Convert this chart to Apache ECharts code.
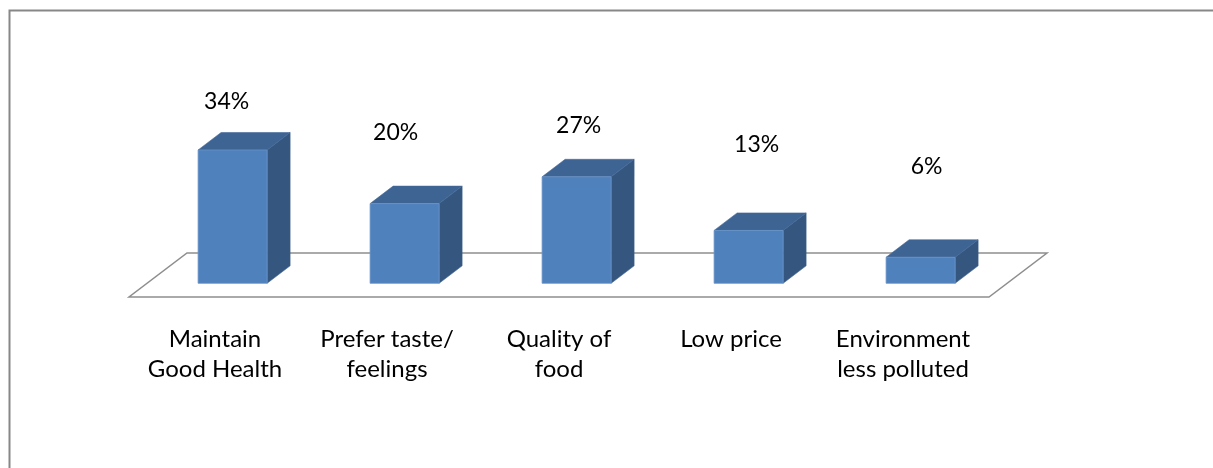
<!DOCTYPE html>
<html>
<head>
<meta charset="utf-8">
<script src="https://cdn.jsdelivr.net/npm/echarts@6/dist/echarts.min.js"></script>
<style>
html,body{margin:0;padding:0;background:#fff;}
#chart{width:1213px;height:468px;}
</style>
</head>
<body>
<div id="chart"></div>
<script>
// ---- data ----
const categories = ['Maintain\nGood Health', 'Prefer taste/\nfeelings', 'Quality of\nfood', 'Low price', 'Environment\nless polluted'];
const values = [34, 20, 27, 13, 6];
const valueLabels = ['34%', '20%', '27%', '13%', '6%'];

// ---- style (label placement as in the original 3D chart) ----
const labelLift = [48, 71, 51, 86, 91];
const labelShift = [-6, -9, 2, 8, 6];

const Y_MIN = -0.8, Y_MAX = 40;
const FONT = 'Lato, "Open Sans", sans-serif';
const DEPTH_SHIFT = 17.6, BAR_W = 69, DX = 23, DY = 17.5;

const chart = echarts.init(document.getElementById('chart'), null, {renderer: 'canvas'});

function renderFloor(params, api) {
  const band = api.size([1, 0])[0];
  const p0 = api.coord([0, Y_MIN]);
  const left = p0[0] - band / 2;
  const right = left + band * categories.length;
  const yFront = p0[1] + 13.7;
  const yBack = p0[1] - 30.3;
  const sh = 58;
  return {
    type: 'polygon',
    shape: {points: [[left, yFront], [right, yFront], [right + sh, yBack], [left + sh, yBack]]},
    style: {fill: '#fff', stroke: '#8e8e8e', lineWidth: 1.5},
    silent: true
  };
}

function renderBar(params, api) {
  const idx = api.value(0);
  const val = api.value(1);
  const base = api.coord([idx, Y_MIN]);
  const top = api.coord([idx, val]);
  const cx = base[0] + DEPTH_SHIFT;
  const l = cx - BAR_W / 2, r = cx + BAR_W / 2;
  const yb = base[1], yt = top[1];
  const i = params.dataIndex;
  return {
    type: 'group',
    children: [
      {type: 'polygon', shape: {points: [[r, yt], [r + DX, yt - DY], [r + DX, yb - DY], [r, yb]]},
        style: {fill: '#34567f', stroke: '#3a5f8c', lineWidth: 0.6}},
      {type: 'polygon', shape: {points: [[l, yt], [l + DX, yt - DY], [r + DX, yt - DY], [r, yt]]},
        style: {fill: '#3e6493', stroke: '#44699a', lineWidth: 0.6}},
      {type: 'rect', shape: {x: l, y: yt, width: BAR_W, height: yb - yt},
        style: {fill: '#4f81bd', stroke: '#6a94c8', lineWidth: 0.8}},
      {type: 'text', x: cx + labelShift[i], y: yt - labelLift[i],
        style: {text: valueLabels[i], fill: '#000', font: '23px ' + FONT, align: 'center', verticalAlign: 'middle'}}
    ]
  };
}

chart.setOption({
  animation: false,
  backgroundColor: '#fff',
  graphic: [{
    type: 'rect', left: 7, top: 8, silent: true,
    shape: {width: 1260, height: 520},
    style: {fill: 'none', stroke: '#878787', lineWidth: 2}
  }],
  grid: {left: 129, right: 224, top: 127, bottom: 184.7},
  xAxis: {
    type: 'category', data: categories,
    axisLine: {show: false}, axisTick: {show: false}, splitLine: {show: false},
    axisLabel: {interval: 0, margin: 41, color: '#000', fontFamily: FONT, fontSize: 24, lineHeight: 30, align: 'center', verticalAlign: 'top'}
  },
  yAxis: {type: 'value', min: Y_MIN, max: Y_MAX, show: false},
  series: [
    {type: 'custom', data: [[0, 0]], renderItem: renderFloor, z: 1, silent: true},
    {type: 'custom', data: values.map((v, i) => [i, v]), renderItem: renderBar, z: 2}
  ]
});
</script>
</body>
</html>
